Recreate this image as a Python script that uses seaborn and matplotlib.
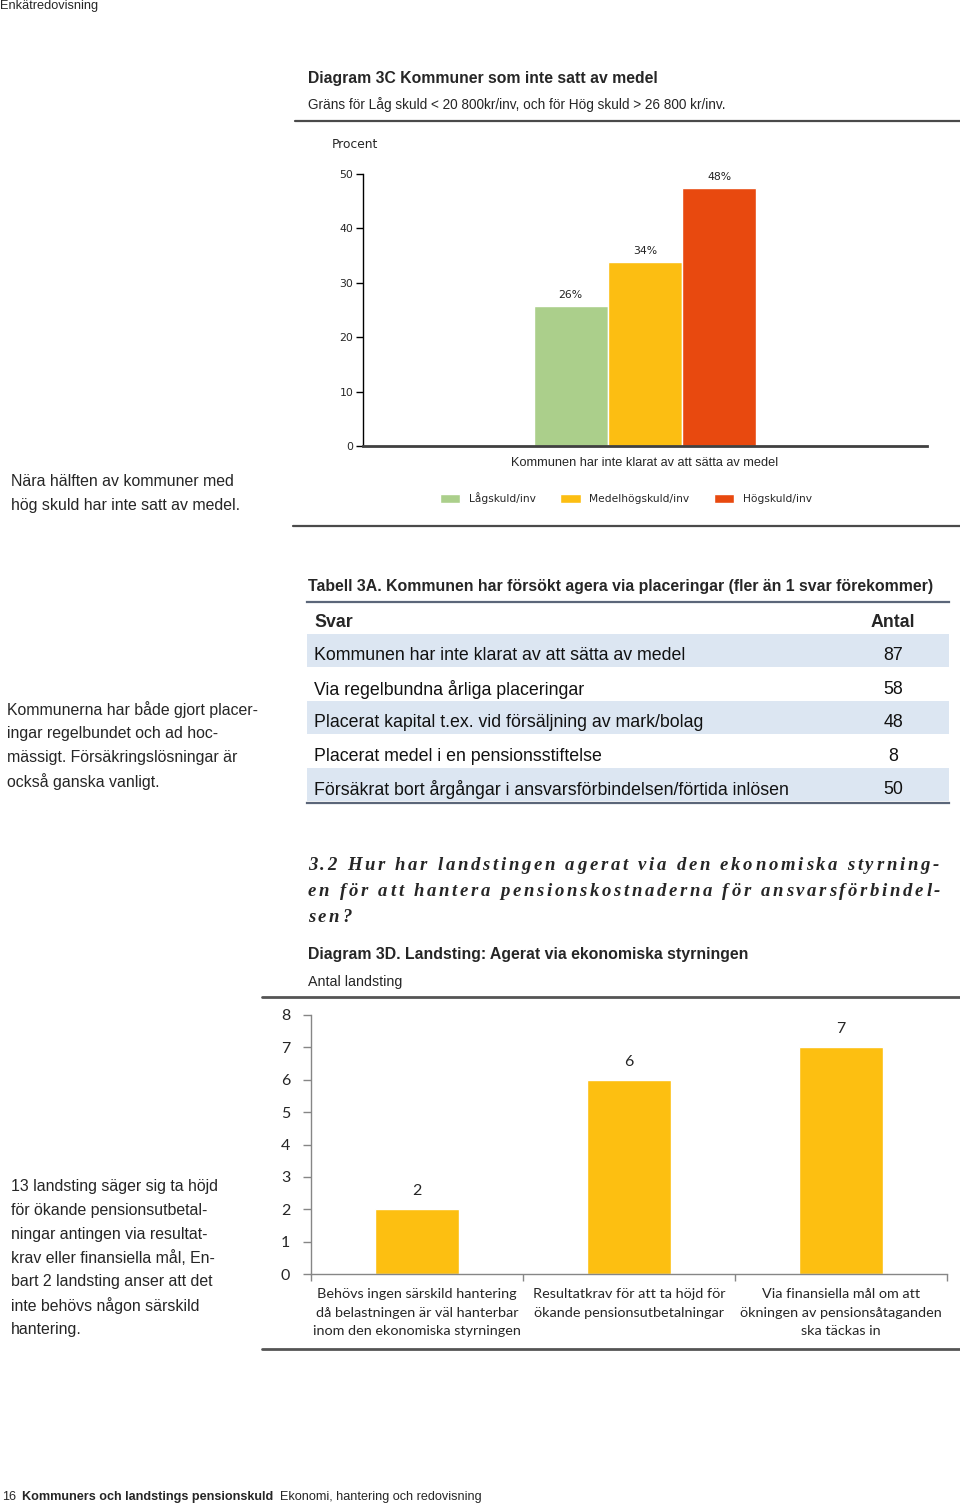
import pandas as pd
import matplotlib
matplotlib.use('Agg')
import matplotlib.pyplot as plt
import seaborn as sns
from matplotlib.patches import Patch
from matplotlib.lines import Line2D
from matplotlib.font_manager import FontProperties

W, H = 960, 1508

# Diagram 3C
kategori_3c = 'Kommunen har inte klarat av att sätta av medel'
grupper_3c = ['Lågskuld/inv', 'Medelhögskuld/inv', 'Högskuld/inv']
procent_3c = [25.8, 33.9, 47.5]
farger_3c = ['#abcf8b', '#fcbe12', '#e8490f']
yticks_3c = [0, 10, 20, 30, 40, 50]

# Tabell 3A
svar_3a = ['Kommunen har inte klarat av att sätta av medel',
           'Via regelbundna årliga placeringar',
           'Placerat kapital t.ex. vid försäljning av mark/bolag',
           'Placerat medel i en pensionsstiftelse',
           'Försäkrat bort årgångar i ansvarsförbindelsen/förtida inlösen']
antal_3a = [87, 58, 48, 8, 50]

# Diagram 3D
svar_3d = ['Behövs ingen särskild hantering\ndå belastningen är väl hanterbar\ninom den ekonomiska styrningen',
           'Resultatkrav för att ta höjd för\nökande pensionsutbetalningar',
           'Via finansiella mål om att\nökningen av pensionsåtaganden\nska täckas in']
antal_3d = [2, 6, 7]
yticks_3d = list(range(0, 9))

sns.set_theme(style='white')
plt.rcParams['font.family'] = ['Liberation Sans', 'DejaVu Sans']
ARIAL = ['Liberation Sans', 'DejaVu Sans']
NARROW = ['Liberation Sans Narrow', 'Liberation Sans']

fig = plt.figure(figsize=(W / 100, H / 100), dpi=100)
renderer = fig.canvas.get_renderer()


def rect(x0, y0, x1, y1):
    return [x0 / W, 1 - y1 / H, (x1 - x0) / W, (y1 - y0) / H]


def txt(x, y, s, size=11, family=ARIAL, **kw):
    kw.setdefault('va', 'center')
    return fig.text(x / W, 1 - y / H, s, fontsize=size, family=family, **kw)


def lines(x, y, rows, step, **kw):
    for i, r in enumerate(rows):
        txt(x, y + i * step, r, **kw)


def hline(y, x0, x1, color='#4a4a4a', lw=1.6):
    fig.add_artist(Line2D([x0 / W, x1 / W], [1 - y / H] * 2, color=color, lw=lw))


def width(s, fp):
    w, h, d = renderer.get_text_width_height_descent(s + 'l', fp, ismath=False)
    w0, h0, d0 = renderer.get_text_width_height_descent('l', fp, ismath=False)
    return w - w0


def spaced(x, y, s, extra, fp):
    for i, ch in enumerate(s):
        xi = x + width(s[:i], fp) + i * extra
        fig.text(xi / W, 1 - y / H, ch, fontproperties=fp, va='center')


# page header / footer
txt(0, 6, 'Enkätredovisning', size=9.2)
fp_fb = FontProperties(family=ARIAL, size=9.1, weight='bold')
txt(2, 1497, '16', size=9.1)
txt(22, 1497, 'Kommuners och landstings pensionskuld', size=9.1, weight='bold')
x_f = 22 + width('Kommuners och landstings pensionskuld', fp_fb) + 7
txt(x_f, 1497, 'Ekonomi, hantering och redovisning', size=9.1)

# ---- Diagram 3C ----
txt(308, 78, 'Diagram 3C Kommuner som inte satt av medel', size=11.3, weight='bold')
txt(308, 105, 'Gräns för Låg skuld < 20 800kr/inv, och för Hög skuld > 26 800 kr/inv.', size=9.8)
hline(121, 295, 960)
txt(332, 145, 'Procent', size=8.8, family=['DejaVu Sans'])

ax1 = fig.add_axes(rect(363, 174, 927, 446))
df1 = pd.DataFrame({'kategori': [kategori_3c] * 3, 'grupp': grupper_3c, 'procent': procent_3c})
sns.barplot(data=df1, x='kategori', y='procent', hue='grupp', palette=farger_3c,
            width=0.395, saturation=1, edgecolor='white', linewidth=1, legend=False, ax=ax1)
ax1.set_xlim(-0.5, 0.5)
ax1.set_ylim(0, 50)
ax1.set_yticks(yticks_3c)
ax1.set_xlabel('')
ax1.set_ylabel('')
for lab in ax1.get_yticklabels():
    lab.set_family('DejaVu Sans')
for lab in ax1.get_xticklabels():
    lab.set_family(NARROW)
ax1.tick_params(axis='y', length=5, width=1, color='black', labelsize=7.8, pad=2, left=True)
ax1.tick_params(axis='x', length=0, labelsize=9.2, pad=8)
sns.despine(ax=ax1)
ax1.spines['left'].set_color('black')
ax1.spines['left'].set_linewidth(1)
ax1.spines['bottom'].set_color('#404040')
ax1.spines['bottom'].set_linewidth(2)
for cont, v in zip(ax1.containers, procent_3c):
    ax1.bar_label(cont, labels=[f'{v:.0f}%'], padding=4, fontsize=7.8, family='DejaVu Sans',
                  color='#222222')

handles = [Patch(facecolor=c, label=g) for c, g in zip(farger_3c, grupper_3c)]
fig.legend(handles=handles, loc='center', bbox_to_anchor=(626 / W, 1 - 498 / H), ncol=3,
           frameon=False, prop={'family': 'DejaVu Sans', 'size': 7.7}, handlelength=1.9,
           handleheight=0.95, handletextpad=0.8, columnspacing=2.3)

lines(11, 482, ['Nära hälften av kommuner med', 'hög skuld har inte satt av medel.'], 23.5, size=11.4)
hline(526, 293, 960)

# ---- Tabell 3A ----
txt(308, 587, 'Tabell 3A. Kommunen har försökt agera via placeringar (fler än 1 svar förekommer)',
    size=11.4, weight='bold', family=NARROW)
ax_t = fig.add_axes(rect(307, 602, 949, 803))
ax_t.set_xlim(0, 1)
ax_t.set_ylim(6, 0)
ax_t.set_xticks([])
ax_t.set_yticks([])
for s in ['left', 'right']:
    ax_t.spines[s].set_visible(False)
for s in ['top', 'bottom']:
    ax_t.spines[s].set_color('#5b6679')
    ax_t.spines[s].set_linewidth(1.6)
ax_t.text(0.011, 0.6, 'Svar', fontsize=12.8, weight='bold', family=NARROW, va='center')
ax_t.text(0.913, 0.6, 'Antal', fontsize=12.8, weight='bold', family=NARROW, va='center',
          ha='center')
for i, (s, n) in enumerate(zip(svar_3a, antal_3a)):
    r = i + 1
    if i % 2 == 0:
        ax_t.axhspan(r - 0.03, r + 0.95, color='#dce6f2', lw=0)
    ax_t.text(0.011, r + 0.6, s, fontsize=12.8, family=NARROW, va='center', color='#111111')
    ax_t.text(0.913, r + 0.6, str(n), fontsize=12.8, family=NARROW, va='center', ha='center',
              color='#111111')

lines(7, 710, ['Kommunerna har både gjort placer-', 'ingar regelbundet och ad hoc-',
               'mässigt. Försäkringslösningar är', 'också ganska vanligt.'], 23.7, size=11.4)

# ---- Rubrik 3.2 ----
fp_h = FontProperties(family=['Liberation Serif', 'DejaVu Serif'], style='italic',
                      weight='bold', size=13.5)
rubrik = ['3.2 Hur har landstingen agerat via den ekonomiska styrning-',
          'en för att hantera pensionskostnaderna för ansvarsförbindel-',
          'sen?']
for i, r in enumerate(rubrik):
    spaced(308, 865 + i * 26, r, 2.7, fp_h)

# ---- Diagram 3D ----
txt(308, 955, 'Diagram 3D. Landsting: Agerat via ekonomiska styrningen', size=11.4, weight='bold',
    family=NARROW)
txt(308, 982, 'Antal landsting', size=10.3, family=NARROW)
hline(997, 262, 960, color='#555555', lw=2)

ax2 = fig.add_axes(rect(311, 1015, 947, 1274))
df2 = pd.DataFrame({'svar': svar_3d, 'antal': antal_3d})
sns.barplot(data=df2, x='svar', y='antal', color='#fdbf11', saturation=1, width=0.4, ax=ax2)
ax2.set_xlim(-0.5, 2.5)
ax2.set_ylim(0, 8)
ax2.set_yticks(yticks_3d)
ax2.set_xticks([-0.5, 0.5, 1.5, 2.5], minor=True)
ax2.set_xlabel('')
ax2.set_ylabel('')
sns.despine(ax=ax2)
for s in ['left', 'bottom']:
    ax2.spines[s].set_color('#868686')
    ax2.spines[s].set_linewidth(1)
ax2.tick_params(axis='y', length=6, width=1, color='#868686', labelsize=11.5, pad=9, left=True)
ax2.tick_params(axis='x', which='major', length=0, labelsize=10.4, pad=10)
ax2.tick_params(axis='x', which='minor', length=5, width=1, color='#868686', bottom=True)
for lab in ax2.get_yticklabels():
    lab.set_family('Lato')
for lab in ax2.get_xticklabels():
    lab.set_family('Lato')
    lab.set_linespacing(1.68)
ax2.bar_label(ax2.containers[0], padding=8, fontsize=11.5, family='Lato')

hline(1349, 262, 960, color='#555555', lw=2)

lines(11, 1187, ['13 landsting säger sig ta höjd', 'för ökande pensionsutbetal-',
                 'ningar antingen via resultat-', 'krav eller finansiella mål, En-',
                 'bart 2 landsting anser att det', 'inte behövs någon särskild',
                 'hantering.'], 23.7, size=11.4)

fig.savefig('out.png', dpi=100)
